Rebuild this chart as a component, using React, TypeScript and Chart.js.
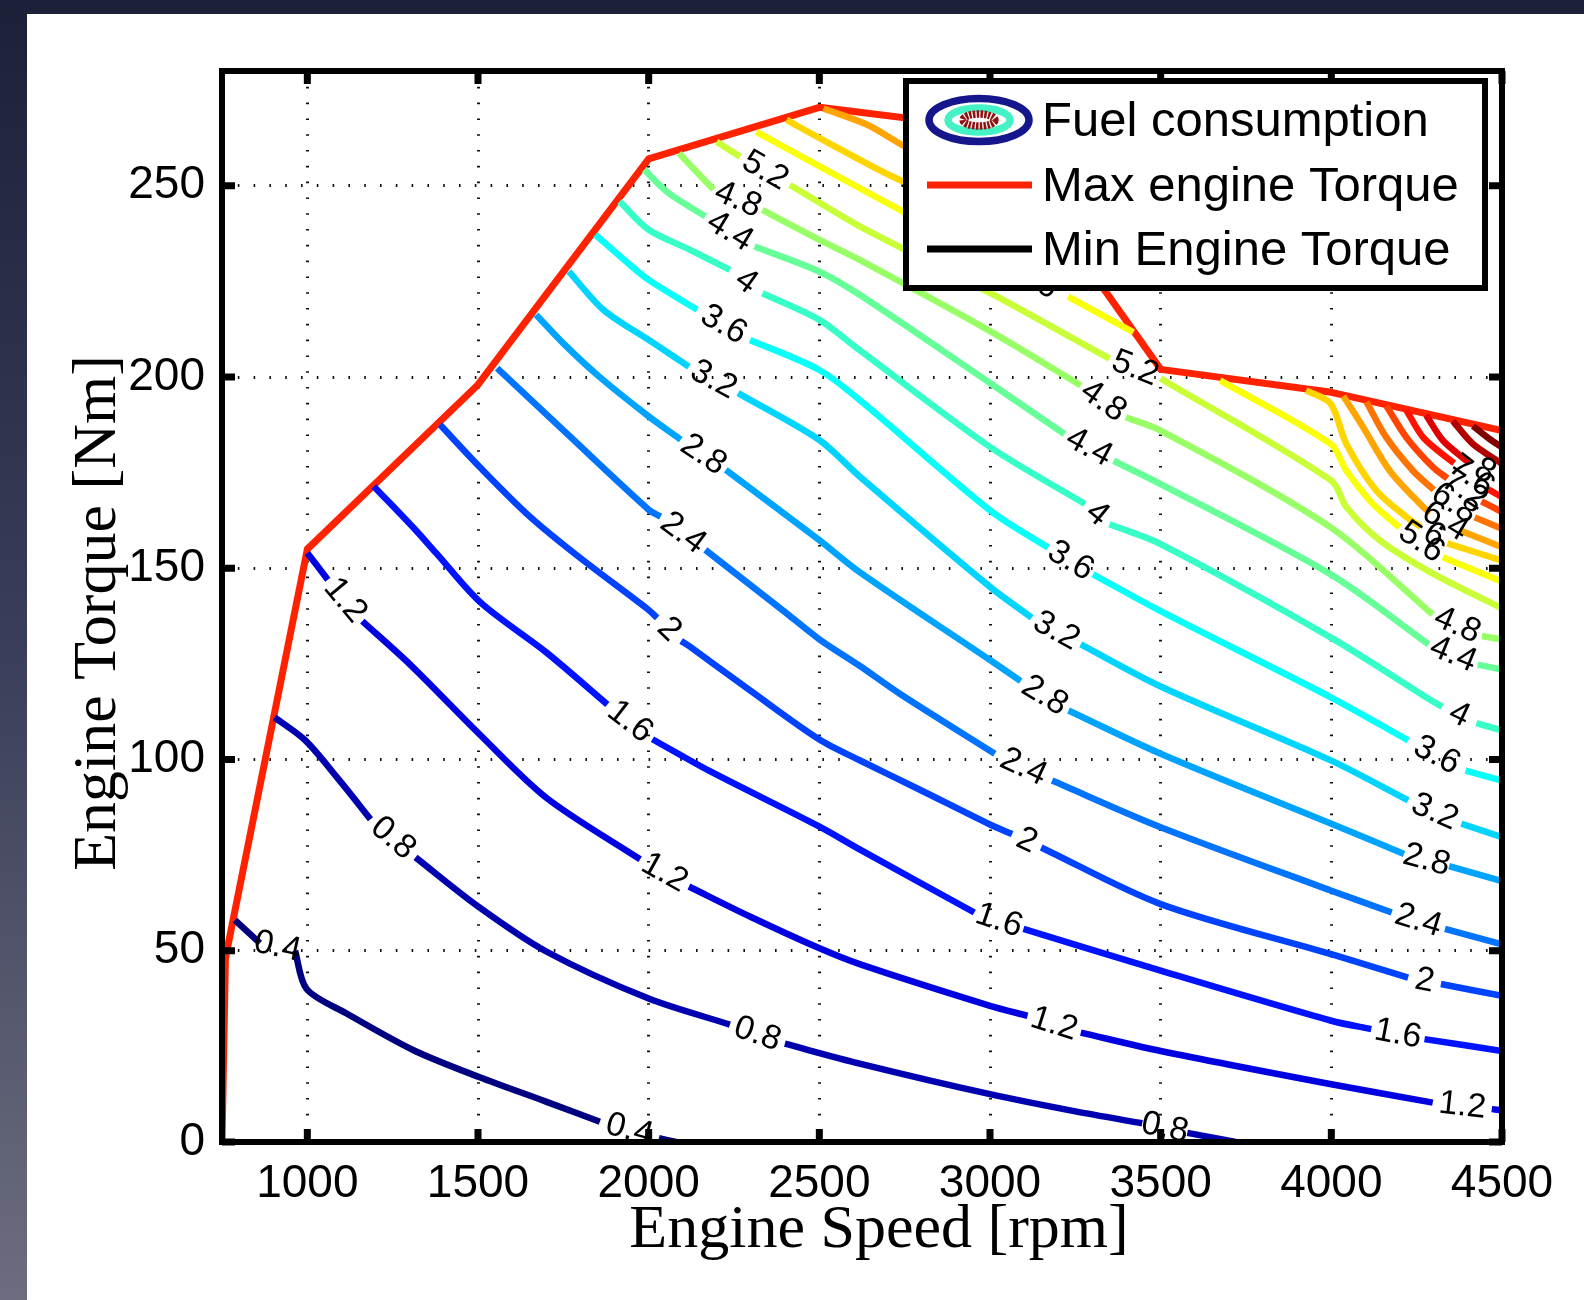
import React, { useEffect, useRef } from "react";
import { Chart, registerables } from "chart.js";

Chart.register(...registerables);

type Pt = [number, number] | null;

// ---------- axes ----------
const xTickValues = [1000, 1500, 2000, 2500, 3000, 3500, 4000, 4500];
const yTickValues = [0, 50, 100, 150, 200, 250];
const xRange = [750, 4500];
const yRange = [0, 280];

// ---------- torque limits ----------
const maxTorqueRpm = [750, 760, 1000, 1500, 2000, 2500, 3000, 3500, 4000, 4500];
const maxTorqueNm = [0, 48, 155, 198, 257, 270.5, 265, 202, 196, 186];
const minTorqueRpm = [750, 4500];
const minTorqueNm = [0, 0];

// ---------- fuel consumption contours (rpm, Nm); null = inline label gap ----------
const fc04: Pt[] = [[788, 58], [861, 52], null, [964, 50], [998, 40], [1115, 33.6], [1311, 24], [1503, 17], [1701, 10.5], [1857, 5.3], null, [2030, 1.0], [2080, 0]];
const fc08: Pt[] = [[904, 111], [994, 105], [1090, 95], [1185, 84.4], null, [1317, 74.4], [1500, 61.6], [1700, 49.8], [2000, 37.5], [2238, 30.7], null, [2399, 25.7], [2618, 20.5], [3000, 12.5], [3250, 8.0], [3446, 4.9], null, [3578, 2.4], [3720, 0]];
const fc12: Pt[] = [[1000, 154], [1060, 147], null, [1161, 136.2], [1305, 124.5], [1500, 107], [1700, 90], [1975, 73.9], null, [2118, 66.8], [2298, 58.9], [2499, 50.7], [2618, 46.5], [3000, 35.6], [3110, 33], null, [3266, 28.6], [3500, 23.8], [4000, 15.1], [4297, 10.3], null, [4470, 8.6], [4500, 8.3]];
const fc16: Pt[] = [[1195, 171.4], [1317, 160], [1377, 154], [1508, 141], [1700, 128], [1879, 114.4], null, [2011, 105.3], [2178, 97], [2499, 82.5], [2618, 76.5], [2954, 60], null, [3098, 55.7], [3500, 44.8], [4000, 31.7], [4117, 29.5], null, [4273, 26.9], [4500, 23.8]];
const fc20: Pt[] = [[1389, 187.5], [1508, 176.2], [1652, 163.5], [1795, 153], [2000, 139.1], [2025, 137], null, [2095, 131], [2118, 129.7], [2298, 118], [2499, 105.3], [2618, 99.8], [2799, 91.9], [3000, 83], [3065, 80.5], null, [3150, 77], [3500, 62.2], [4000, 49.1], [4225, 43], null, [4321, 41.3], [4500, 38.2]];
const fc24: Pt[] = [[1556, 202.3], [1759, 185.3], [2000, 165.3], [2035, 163.5], null, [2166, 154.8], [2393, 139], [2499, 131.5], [2618, 124.5], [2739, 117], [3014, 101.5], null, [3182, 94.5], [3500, 82.3], [4000, 65.7], [4177, 60], null, [4333, 55.7], [4500, 51.7]];
const fc28: Pt[] = [[1670, 216.3], [1759, 208], [1855, 200.1], [2000, 189.7], [2094, 183.6], null, [2226, 175.7], [2499, 157.4], [2618, 149], [3000, 126], [3090, 120.5], null, [3230, 112.8], [3500, 101.5], [4000, 83.2], [4213, 75.3], null, [4345, 72.1], [4500, 68.2]];
const fc32: Pt[] = [[1766, 227.6], [1867, 217.6], [2000, 209.7], [2118, 202.7], null, [2262, 195.8], [2499, 183.6], [2618, 174], [3002, 145], [3122, 137.1], null, [3266, 130.1], [3500, 119.1], [4000, 99.7], [4225, 89.3], null, [4381, 83.2], [4500, 79.7]];
const fc36: Pt[] = [[1844, 237.2], [1939, 229.8], [2000, 225.4], [2142, 217.6], null, [2297, 209.7], [2499, 201.9], [2618, 194], [3002, 165], [3170, 155.4], null, [3302, 148.4], [3500, 138.8], [4000, 116.2], [4225, 105], null, [4393, 97.1], [4500, 94.5]];
const fc40: Pt[] = [[1915, 245.9], [2000, 238.5], [2120, 233.3], [2238, 228], null, [2333, 221.9], [2499, 215], [2618, 207], [3002, 181.6], [3278, 166.8], null, [3350, 161.5], [3500, 156.3], [4000, 131.8], [4297, 115.2], [4325, 113.8], null, [4425, 109.5], [4500, 107.6]];
const fc44: Pt[] = [[1987, 254.2], [2058, 248.1], [2166, 242], null, [2310, 234.1], [2499, 227.6], [2618, 221.5], [3002, 198.3], [3218, 185.1], null, [3362, 178.1], [3500, 172], [3998, 148.4], [4285, 130.1], null, [4429, 124.8], [4500, 123.5]];
const fc48: Pt[] = [[2089, 258.5], [2190, 249], null, [2333, 243.7], [2499, 235.9], [2618, 230.6], [3000, 212], [3266, 197.8], null, [3398, 189.5], [3500, 186], [3998, 160.7], [4297, 137.9], null, [4441, 132.3], [4500, 131.4]];
const fc52: Pt[] = [[2199, 261.5], [2268, 257.6], null, [2414, 250.2], [2502, 245.5], [2618, 239.4], [3000, 222], [3350, 204.8], null, [3500, 199.6], [4000, 172.9], [4044, 166], [4142, 157.3], [4298, 148.6], [4500, 139.5]];
const fc56a: Pt[] = [[2316, 264.1], [2502, 255], [2736, 243.7], [3000, 231], [3030, 229.5], null, [3229, 221], [3420, 211.7]];
const fc56b: Pt[] = [[3674, 199.1], [3998, 182.5], [4044, 175.5], [4122, 166.8], [4200, 160.7], null, [4327, 152.9], [4500, 146.5]];
const fc60a: Pt[] = [[2404, 267.2], [2502, 262.4], [2736, 251.5], [3000, 243], [3234, 235.5]];
const fc60b: Pt[] = [[3926, 196.5], [3998, 193], [4044, 182.5], [4132, 170.3], [4220, 163.4], [4262, 160.8], null, [4340, 156.5], [4500, 152]];
const fc64a: Pt[] = [[2512, 270.2], [2639, 266], [2736, 261], [3000, 248], [3224, 236.8]];
const fc64b: Pt[] = [[4035, 195], [4093, 186.9], [4171, 175.5], [4269, 166], [4290, 164.5], null, [4376, 159.9], [4500, 155.5]];
const fc68: Pt[] = [[4103, 193.5], [4161, 184.2], [4239, 175.5], [4300, 170.5], null, [4420, 163.3], [4500, 160.3]];
const fc72: Pt[] = [[4161, 192.5], [4220, 184.2], [4298, 176.4], [4340, 173.5], null, [4440, 167.5], [4500, 164.7]];
const fc76: Pt[] = [[4220, 191.3], [4269, 184.2], [4337, 179], [4360, 177.5], null, [4460, 170.6], [4500, 168.6]];
const fc80: Pt[] = [[4278, 190], [4327, 183.4], [4395, 178.2], [4405, 177.7], null, [4495, 173.1], [4500, 172.9]];
const fc84: Pt[] = [[4356, 188.5], [4415, 182.5], [4500, 177.3]];
const fc88: Pt[] = [[4415, 187.2], [4460, 184], [4500, 181.6]];

const contourLevels = [0.4, 0.8, 1.2, 1.6, 2, 2.4, 2.8, 3.2, 3.6, 4, 4.4, 4.8, 5.2, 5.6, 5.6, 6, 6, 6.4, 6.4, 6.8, 7.2, 7.6, 8, 8.4, 8.8];
const contourLines: Pt[][] = [fc04, fc08, fc12, fc16, fc20, fc24, fc28, fc32, fc36, fc40, fc44, fc48, fc52, fc56a, fc56b, fc60a, fc60b, fc64a, fc64b, fc68, fc72, fc76, fc80, fc84, fc88];
const colorLevelMin = 0.4;
const colorLevelMax = 8.8;

// ---------- styling ----------
const SANS = '"Liberation Sans", Arial, Helvetica, sans-serif';
const SERIF = '"Liberation Serif", "Times New Roman", serif';

function jet(t: number): string {
  const c = (v: number) => Math.max(0, Math.min(1, v));
  const r = c(Math.min(4 * t - 1.5, -4 * t + 4.5));
  const g = c(Math.min(4 * t - 0.5, -4 * t + 3.5));
  const b = c(Math.min(4 * t + 0.5, -4 * t + 2.5));
  return `rgb(${Math.round(r * 255)},${Math.round(g * 255)},${Math.round(b * 255)})`;
}
function levelColor(l: number) {
  return jet((l - colorLevelMin) / (colorLevelMax - colorLevelMin));
}
function toXY(pts: Pt[]) {
  let lastX = pts.find((p) => p)![0];
  return pts.map((p) => {
    if (!p) return { x: lastX, y: null as any };
    lastX = p[0];
    return { x: p[0], y: p[1] };
  });
}

const backgroundPlugin = {
  id: "bg",
  beforeDraw(chart: any) {
    const { ctx, width, height } = chart;
    ctx.save();
    const g = ctx.createLinearGradient(0, 0, 0, height);
    g.addColorStop(0, "#1d2039");
    g.addColorStop(0.5, "#3b3e5a");
    g.addColorStop(1, "#6c6d7e");
    ctx.fillStyle = g;
    ctx.fillRect(0, 0, width, height);
    ctx.fillStyle = "#ffffff";
    ctx.fillRect(27, 14, width - 27, height - 14);
    ctx.restore();
  },
};

const labelPlugin = {
  id: "contourLabels",
  afterDatasetsDraw(chart: any) {
    const { ctx } = chart;
    const xs = chart.scales.x;
    const ys = chart.scales.y;
    ctx.save();
    ctx.font = `34px ${SANS}`;
    ctx.fillStyle = "#000";
    ctx.textAlign = "center";
    ctx.textBaseline = "middle";
    contourLines.forEach((pts, k) => {
      const lvl = contourLevels[k];
      for (let i = 1; i < pts.length - 1; i++) {
        const a = pts[i - 1];
        const b = pts[i + 1];
        if (pts[i] === null && a && b) {
          const ax = xs.getPixelForValue(a[0]);
          const ay = ys.getPixelForValue(a[1]);
          const bx = xs.getPixelForValue(b[0]);
          const by = ys.getPixelForValue(b[1]);
          let ang = Math.atan2(by - ay, bx - ax);
          if (ang > Math.PI / 2) ang -= Math.PI;
          if (ang < -Math.PI / 2) ang += Math.PI;
          ctx.save();
          ctx.translate((ax + bx) / 2, (ay + by) / 2);
          ctx.rotate(ang);
          ctx.fillText(String(lvl), 0, 0);
          ctx.restore();
        }
      }
    });
    ctx.restore();
  },
};

const framePlugin = {
  id: "frame",
  afterDraw(chart: any) {
    const { ctx, chartArea } = chart;
    const { left, right, top, bottom } = chartArea;
    const xs = chart.scales.x;
    const ys = chart.scales.y;
    ctx.save();
    // ticks (inward, all sides)
    ctx.fillStyle = "#000";
    xTickValues.forEach((v) => {
      const p = xs.getPixelForValue(v);
      ctx.fillRect(p - 3.5, bottom - 13, 7, 13);
      ctx.fillRect(p - 3.5, top, 7, 13);
    });
    yTickValues.forEach((v) => {
      const p = ys.getPixelForValue(v);
      ctx.fillRect(left, p - 3.5, 13, 7);
      ctx.fillRect(right - 13, p - 3.5, 13, 7);
    });
    // frame
    ctx.strokeStyle = "#000";
    ctx.lineWidth = 6;
    ctx.strokeRect(left, top, right - left, bottom - top);

    // axis titles
    ctx.fillStyle = "#000";
    ctx.font = `62px ${SERIF}`;
    ctx.textAlign = "center";
    ctx.textBaseline = "alphabetic";
    ctx.fillText("Engine Speed [rpm]", 879, 1247);
    ctx.save();
    ctx.translate(115, 613);
    ctx.rotate(-Math.PI / 2);
    ctx.fillText("Engine Torque [Nm]", 0, 0);
    ctx.restore();

    // legend
    const lx = 906, ly = 81, lw = 579, lh = 207;
    ctx.fillStyle = "#fff";
    ctx.fillRect(lx, ly, lw, lh);
    ctx.lineWidth = 6;
    ctx.strokeStyle = "#000";
    ctx.strokeRect(lx, ly, lw, lh);
    // contour icon
    const cx = 979, cy = 120;
    ctx.lineWidth = 7.5;
    ctx.strokeStyle = "#16168c";
    ctx.beginPath(); ctx.ellipse(cx, cy, 50, 21.5, 0, 0, Math.PI * 2); ctx.stroke();
    ctx.strokeStyle = "#44f2c6";
    ctx.beginPath(); ctx.ellipse(cx, cy, 31, 12, 0, 0, Math.PI * 2); ctx.stroke();
    ctx.strokeStyle = "#8e1212";
    ctx.setLineDash([2.5, 1.2]);
    ctx.beginPath(); ctx.ellipse(cx, cy, 16, 6, 0, 0, Math.PI * 2); ctx.stroke();
    ctx.setLineDash([]);
    // lines
    ctx.lineWidth = 7;
    ctx.strokeStyle = "#ff2200";
    ctx.beginPath(); ctx.moveTo(927, 185); ctx.lineTo(1032, 185); ctx.stroke();
    ctx.strokeStyle = "#000";
    ctx.beginPath(); ctx.moveTo(927, 249); ctx.lineTo(1032, 249); ctx.stroke();
    ctx.fillStyle = "#000";
    ctx.font = `49px ${SANS}`;
    ctx.textAlign = "left";
    ctx.textBaseline = "middle";
    ctx.fillText("Fuel consumption", 1042, 122);
    ctx.fillText("Max engine Torque", 1042, 187);
    ctx.fillText("Min Engine Torque", 1042, 251);
    ctx.restore();
  },
};

export default function App() {
  const ref = useRef<HTMLCanvasElement | null>(null);
  useEffect(() => {
    if (!ref.current) return;
    const datasets: any[] = contourLines.map((pts, k) => ({
      label: "Fuel consumption " + contourLevels[k],
      data: toXY(pts),
      showLine: true,
      borderColor: levelColor(contourLevels[k]),
      backgroundColor: levelColor(contourLevels[k]),
      borderWidth: 6.5,
      pointRadius: 0,
      spanGaps: false,
      tension: 0.3,
      fill: false,
      borderJoinStyle: "round",
    }));
    datasets.push({
      label: "Max engine Torque",
      data: maxTorqueRpm.map((x, i) => ({ x, y: maxTorqueNm[i] })),
      showLine: true,
      borderColor: "#ff2200",
      borderWidth: 7,
      pointRadius: 0,
      tension: 0,
      fill: false,
      borderJoinStyle: "round",
    });
    datasets.push({
      label: "Min Engine Torque",
      data: minTorqueRpm.map((x, i) => ({ x, y: minTorqueNm[i] })),
      showLine: true,
      borderColor: "#000",
      borderWidth: 6,
      pointRadius: 0,
      fill: false,
    });
    const tickFont = { family: SANS, size: 46 };
    const chart = new Chart(ref.current, {
      type: "scatter",
      data: { datasets },
      options: {
        animation: false,
        responsive: false,
        devicePixelRatio: 1,
        events: [],
        layout: { padding: { left: 0, top: 71, right: 82, bottom: 0 } },
        plugins: { legend: { display: false }, tooltip: { enabled: false } },
        scales: {
          x: {
            type: "linear",
            min: xRange[0],
            max: xRange[1],
            afterBuildTicks: (s: any) => {
              s.ticks = xTickValues.map((v) => ({ value: v }));
            },
            afterFit: (s: any) => {
              s.height = 158;
            },
            grid: { color: "#111", lineWidth: 3, drawTicks: false },
            border: { display: false, dash: [1.6, 14.2] },
            ticks: { font: tickFont, color: "#000", padding: 15, maxRotation: 0, autoSkip: false, callback: (v: any) => String(v) },
          },
          y: {
            type: "linear",
            min: yRange[0],
            max: yRange[1],
            afterBuildTicks: (s: any) => {
              s.ticks = yTickValues.map((v) => ({ value: v }));
            },
            afterFit: (s: any) => {
              s.width = 222;
            },
            grid: { color: "#111", lineWidth: 3, drawTicks: false },
            border: { display: false, dash: [1.6, 14.2] },
            ticks: { font: tickFont, color: "#000", padding: 17, autoSkip: false, callback: (v: any) => String(v) },
          },
        },
      } as any,
      plugins: [backgroundPlugin, labelPlugin, framePlugin],
    });
    return () => chart.destroy();
  }, []);
  return (
    <div style={{ position: "absolute", left: 0, top: 0, width: 1584, height: 1300 }}>
      <canvas ref={ref} width={1584} height={1300} style={{ display: "block" }} />
    </div>
  );
}
